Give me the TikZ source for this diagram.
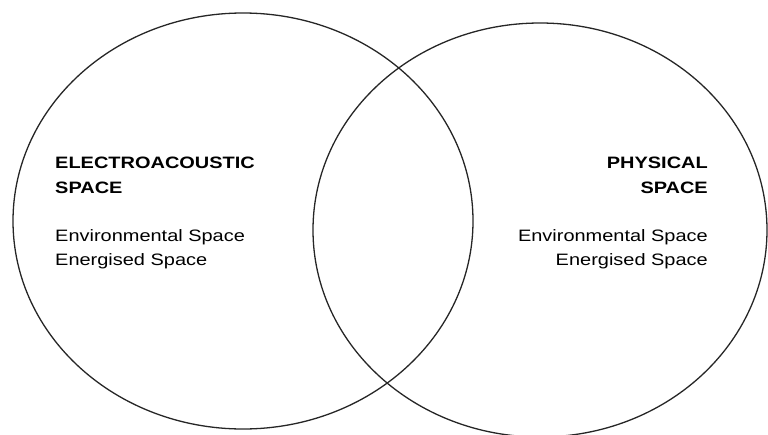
\documentclass[tikz,border=0pt]{standalone}
\usepackage{fontspec}
\usepackage{graphicx}
\setmainfont{Liberation Sans}
\begin{document}
\begin{tikzpicture}[x=1pt,y=-1pt,
  ring/.style={draw=black!85,line width=1.3pt},
  txt/.style={inner sep=0pt,font=\fontsize{16.5}{20}\selectfont},
  ttl/.style={txt,font=\fontsize{16.5}{20}\selectfont\bfseries}]
\useasboundingbox (0,0) rectangle (768,434);
\draw[ring] (243,221) ellipse [x radius=230, y radius=208];
\draw[ring] (540,230) ellipse [x radius=227, y radius=207];
% left block
\node[ttl,anchor=base west] (l1) at (55,168.3) {\scalebox{1.21}[1]{ELECTROACOUSTIC}};
\node[ttl,anchor=base west] (l2) at (55,193.3) {\scalebox{1.21}[1]{SPACE}};
\node[txt,anchor=base west] (l3) at (55,241.7) {\scalebox{1.21}[1]{Environmental Space}};
\node[txt,anchor=base west] (l4) at (55,265) {\scalebox{1.21}[1]{Energised Space}};
% right block
\node[ttl,anchor=base east] (r1) at (708,168.3) {\scalebox{1.21}[1]{PHYSICAL}};
\node[ttl,anchor=base east] (r2) at (708,193.3) {\scalebox{1.21}[1]{SPACE}};
\node[txt,anchor=base east] (r3) at (708,241.7) {\scalebox{1.21}[1]{Environmental Space}};
\node[txt,anchor=base east] (r4) at (708,265) {\scalebox{1.21}[1]{Energised Space}};
\end{tikzpicture}
\end{document}
